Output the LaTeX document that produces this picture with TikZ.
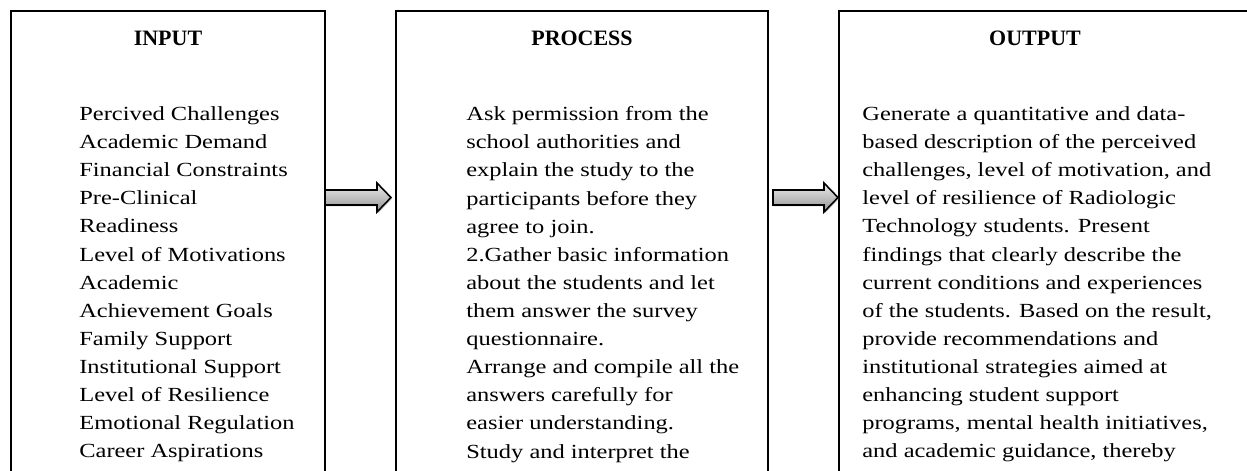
\documentclass[tikz,border=0pt]{standalone}
\usepackage{fontspec}
\setmainfont{Liberation Serif}[FakeStretch=1.22]
\newfontfamily\headfont{Liberation Serif}
\usetikzlibrary{calc,shadows}
\tikzset{
  ipobox/.style={draw,line width=1.1pt,anchor=north west,inner sep=0pt,outer sep=0pt,minimum height=12cm},
  headtext/.style={font=\headfont\bfseries\fontsize{12.5pt}{15pt}\selectfont,anchor=base,inner sep=0pt},
  bodytext/.style={font=\fontsize{11.4pt}{16pt}\selectfont,align=left,anchor=north west,inner sep=0pt},
  blockarrow/.style={draw=black,line width=0.9pt,top color=gray!15,middle color=gray!50,bottom color=gray!85,
    drop shadow={opacity=0.35,shadow xshift=0.6pt,shadow yshift=-0.8pt}}
}
% block arrow: shaft starts at #1, tip at #2
\newcommand\ipoarrow[2]{%
  \path[blockarrow] ($(#1)+(0,0.15)$) -- ($(#2)+(-0.28,0.15)$) -- ($(#2)+(-0.28,0.29)$) -- (#2)
    -- ($(#2)+(-0.28,-0.29)$) -- ($(#2)+(-0.28,-0.15)$) -- ($(#1)+(0,-0.15)$) -- cycle;}
\begin{document}
\begin{tikzpicture}
\useasboundingbox (0,0) rectangle (24.94,-9.40);
\clip (0,0) rectangle (24.94,-9.40);
\node[ipobox,minimum width=6.28cm] (input) at (0.22,-0.22) {};
\node[ipobox,minimum width=7.44cm] (process) at (7.92,-0.22) {};
\node[ipobox,minimum width=9cm] (output) at (16.78,-0.22) {};
\node[headtext] (inputhead) at (3.36,-0.90) {INPUT};
\node[headtext] (processhead) at (11.64,-0.90) {PROCESS};
\node[headtext] (outputhead) at (20.70,-0.90) {OUTPUT};
\node[bodytext] (inputbody) at (1.58,-2.124) {Percived Challenges\\
Academic Demand\\
Financial Constraints\\
Pre-Clinical\\
Readiness\\
Level of Motivations\\
Academic\\
Achievement Goals\\
Family Support\\
Institutional Support\\
Level of Resilience\\
Emotional Regulation\\
Career Aspirations};
\node[bodytext] (processbody) at (9.32,-2.124) {Ask permission from the\\
school authorities and\\
explain the study to the\\
participants before they\\
agree to join.\\
2.Gather basic information\\
about the students and let\\
them answer the survey\\
questionnaire.\\
Arrange and compile all the\\
answers carefully for\\
easier understanding.\\
Study and interpret the};
\node[bodytext] (outputbody) at (17.24,-2.124) {Generate a quantitative and data-\\
based description of the perceived\\
challenges, level of motivation, and\\
level of resilience of Radiologic\\
Technology students. Present\\
findings that clearly describe the\\
current conditions and experiences\\
of the students. Based on the result,\\
provide recommendations and\\
institutional strategies aimed at\\
enhancing student support\\
programs, mental health initiatives,\\
and academic guidance, thereby};
\coordinate (a1s) at (input.east |- 0,-3.95);
\coordinate (a1e) at ($(process.west |- 0,-3.95)+(-0.10,0)$);
\coordinate (a2s) at ($(process.east |- 0,-3.95)+(0.10,0)$);
\coordinate (a2e) at ($(output.west |- 0,-3.95)+(-0.02,0)$);
\ipoarrow{a1s}{a1e}
\ipoarrow{a2s}{a2e}
\end{tikzpicture}
\end{document}
